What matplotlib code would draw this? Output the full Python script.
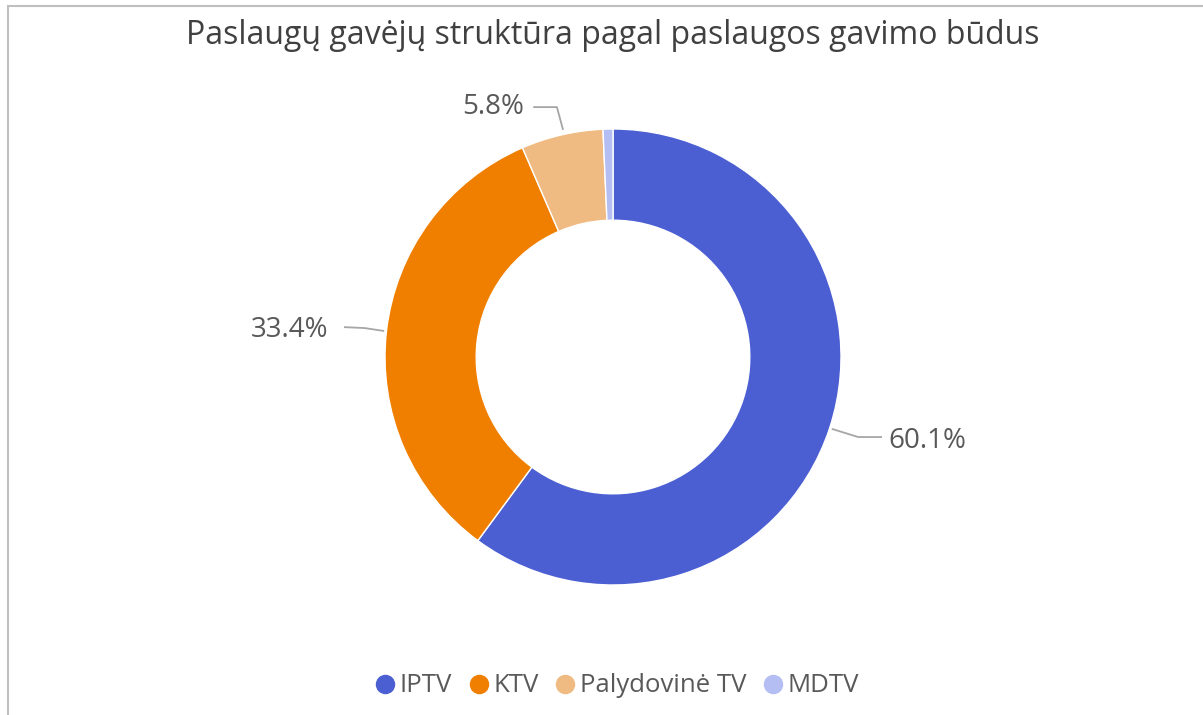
import matplotlib
matplotlib.use('Agg')
import matplotlib.pyplot as plt
from matplotlib.lines import Line2D
from matplotlib.patches import Rectangle
import numpy as np

plt.rcParams['font.family'] = ['Open Sans', 'DejaVu Sans']

# duomenys
kategorijos = ['IPTV', 'KTV', 'Palydovinė TV', 'MDTV']
dalys = [60.1, 33.4, 5.8, 0.7]
spalvos = ['#4B5FD2', '#F07F00', '#F0BB82', '#B4BEF2']
pavadinimas = 'Paslaugų gavėjų struktūra pagal paslaugos gavimo būdus'

W, H = 1203, 715
cx, cy, R = 613, 357, 228  # px

fig = plt.figure(figsize=(W / 100, H / 100), dpi=100)
ax = fig.add_axes([0, 0, 1, 1])

wedges, _ = ax.pie(dalys, colors=spalvos, startangle=90, counterclock=False,
                   radius=1.0, wedgeprops=dict(width=0.4, edgecolor='white', linewidth=1))
ax.set_xlim(-cx / R, (W - cx) / R)
ax.set_ylim(-(H - cy) / R, cy / R)
ax.axis('off')

# etiketės: (teksto x, y, lygiavimas, lūžio taškas)
lbl_cfg = [
    dict(xy=(1.206, -0.368), ha='left', elbow=[(1.075, -0.351), (1.18, -0.351)]),
    dict(xy=(-1.25, 0.118), ha='right', elbow=[(-1.09, 0.127), (-1.18, 0.131)]),
    dict(xy=(-0.39, 1.096), ha='right', elbow=[(-0.246, 1.096), (-0.35, 1.096)]),
]
lbl_color = '#595959'
for i, cfg in enumerate(lbl_cfg):
    w = wedges[i]
    ang = np.deg2rad((w.theta1 + w.theta2) / 2)
    if i == 2:
        p0 = (-0.219, 0.996)
    else:
        p0 = (1.01 * np.cos(ang), 1.01 * np.sin(ang))
    pts = [p0] + cfg['elbow']
    xs, ys = zip(*pts)
    ax.plot(xs, ys, color='#A6A6A6', lw=1.3, solid_capstyle='butt')
    ax.text(cfg['xy'][0], cfg['xy'][1], f'{dalys[i]:.1f}%', ha=cfg['ha'], va='center',
            fontsize=20, color=lbl_color)

fig.text(613 / W, 1 - 35 / H, pavadinimas, ha='center', va='center',
         fontsize=23, color='#404040')

handles = [Line2D([], [], marker='o', linestyle='none', markersize=13,
                  markerfacecolor=c, markeredgecolor=c) for c in spalvos]
fig.legend(handles, kategorijos, loc='center', bbox_to_anchor=(615 / W, 1 - 686 / H),
           ncol=4, frameon=False, fontsize=18.5, labelcolor=lbl_color,
           handletextpad=0.0, columnspacing=0.5, handlelength=1.1)

fig.patches.append(Rectangle((8 / W, -0.1), 1.2, 1 - 6 / H + 0.1, transform=fig.transFigure,
                             fill=False, edgecolor='#BFBFBF', lw=1.5))

fig.savefig('out.png', dpi=100, facecolor='white')
